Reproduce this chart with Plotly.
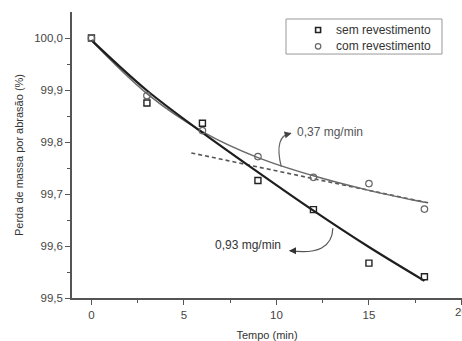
import plotly.graph_objects as go

# measured data
tempo = [0, 3, 6, 9, 12, 15, 18]
sem_revestimento = [100.0, 99.875, 99.836, 99.726, 99.670, 99.567, 99.541]
com_revestimento = [100.0, 99.889, 99.822, 99.772, 99.732, 99.720, 99.671]

# fitted curves
fit_x = [0, 3, 6, 9, 12, 15, 18]
fit_sem = [99.996, 99.899, 99.818, 99.742, 99.668, 99.598, 99.533]
fit_com = [99.995, 99.893, 99.820, 99.770, 99.735, 99.707, 99.684]

# linear (dashed) fit
lin_x = [5.4, 18.2]
lin_y = [99.779, 99.683]

series_names = ["sem revestimento", "com revestimento"]
x_ticks = [0, 5, 10, 15]
x_edge_tick = 20

FONT = "Liberation Sans, Arial, sans-serif"
AXC = "#555555"
XR = [-1.05, 20.03]

fig = go.Figure()

fig.add_trace(go.Scatter(x=lin_x, y=lin_y, mode="lines",
                         line=dict(color="#555555", width=1.6, dash="4px,3px"),
                         showlegend=False, hoverinfo="skip"))
fig.add_trace(go.Scatter(x=fit_x, y=fit_com, mode="lines", line_shape="spline",
                         line=dict(color="#6a6a6a", width=1.5),
                         showlegend=False, hoverinfo="skip"))
fig.add_trace(go.Scatter(x=fit_x, y=fit_sem, mode="lines", line_shape="spline",
                         line=dict(color="#1e1e1e", width=2.2),
                         showlegend=False, hoverinfo="skip"))
fig.add_trace(go.Scatter(x=tempo, y=sem_revestimento, mode="markers",
                         name=series_names[0], showlegend=False,
                         marker=dict(symbol="square-open", size=6, color="#222222",
                                     line=dict(width=1.4, color="#222222"))))
fig.add_trace(go.Scatter(x=tempo, y=com_revestimento, mode="markers",
                         name=series_names[1], showlegend=False,
                         marker=dict(symbol="circle-open", size=6.5, color="#666666",
                                     line=dict(width=1.2, color="#666666"))))

# legend (drawn on an auxiliary 0..1 axis pair)
leg_x = 0.631
leg_rows = [0.937, 0.880]
fig.add_shape(type="rect", xref="paper", yref="paper",
              x0=0.5487, x1=0.9487, y0=0.853, y1=0.9755,
              line=dict(color="#999999", width=1), fillcolor="white", layer="below")
fig.add_trace(go.Scatter(x=[leg_x], y=[leg_rows[0]], xaxis="x3", yaxis="y3",
                         mode="markers", showlegend=False, hoverinfo="skip",
                         marker=dict(symbol="square-open", size=5, color="#222222",
                                     line=dict(width=1.6, color="#222222"))))
fig.add_trace(go.Scatter(x=[leg_x], y=[leg_rows[1]], xaxis="x3", yaxis="y3",
                         mode="markers", showlegend=False, hoverinfo="skip",
                         marker=dict(symbol="circle-open", size=5.5, color="#666666",
                                     line=dict(width=1.2, color="#666666"))))
for name, ry in zip(series_names, leg_rows):
    fig.add_annotation(x=0.672, y=ry, xref="paper", yref="paper", text=name,
                       showarrow=False, xanchor="left", yanchor="middle",
                       font=dict(family=FONT, size=12, color="#333333"))

# edge tick label (cut by the right border, as in the original)
fig.add_annotation(x=x_edge_tick, y=0, xref="x", yref="paper", text=str(x_edge_tick),
                   showarrow=False, xanchor="center", yanchor="top", yshift=-6,
                   font=dict(family=FONT, size=11.5, color="#444444"))

# curved arrows
fig.add_shape(type="path", xref="x", yref="y",
              path="M 10.26,99.7525 Q 9.85,99.812 10.78,99.817",
              line=dict(color="#666666", width=1.2))
fig.add_shape(type="path", xref="x", yref="y",
              path="M 13.05,99.634 Q 13.0,99.580 10.72,99.591",
              line=dict(color="#555555", width=1.2))
fig.add_annotation(x=10.82, y=99.817, xref="x", yref="y", text="", showarrow=True,
                   ax=-8, ay=2, arrowhead=2, arrowsize=1, arrowwidth=1.4,
                   arrowcolor="#444444", standoff=0)
fig.add_annotation(x=10.68, y=99.591, xref="x", yref="y", text="", showarrow=True,
                   ax=8, ay=0, arrowhead=2, arrowsize=1, arrowwidth=1.4,
                   arrowcolor="#333333", standoff=0)

fig.add_annotation(x=11.0, y=99.82, xref="x", yref="y", text="0,37 mg/min",
                   showarrow=False, xanchor="left", yanchor="middle",
                   font=dict(family=FONT, size=12, color="#555555"))
fig.add_annotation(x=10.35, y=99.602, xref="x", yref="y", text="0,93 mg/min",
                   showarrow=False, xanchor="right", yanchor="middle",
                   font=dict(family=FONT, size=12, color="#333333"))

fig.update_layout(
    width=462, height=341,
    margin=dict(l=72, r=0, t=12, b=43),
    paper_bgcolor="white", plot_bgcolor="white",
    separators=",.",
    font=dict(family=FONT, size=11, color="#444444"),
    showlegend=False,
    xaxis=dict(range=XR, tickvals=x_ticks + [x_edge_tick],
               ticktext=[str(v) for v in x_ticks] + [""],
               ticks="outside", ticklen=5, tickwidth=1.2, tickcolor=AXC,
               showline=True, linecolor=AXC, linewidth=1.5,
               showgrid=False, zeroline=False,
               minor=dict(ticks="outside", ticklen=3, tickwidth=1.2, tickcolor=AXC,
                          tickvals=[2.5, 7.5, 12.5, 17.5], showgrid=False),
               tickfont=dict(size=11.5, color="#444444"),
               title=dict(text="Tempo (min)", standoff=12,
                          font=dict(size=11, color="#333333"))),
    xaxis2=dict(range=XR, overlaying="x", side="top", anchor="y",
                tickvals=[2.5, 7.5, 12.5, 17.5], ticks="inside", ticklen=3,
                tickwidth=1.2, tickcolor=AXC, showticklabels=False,
                showline=True, linecolor=AXC, linewidth=1.5,
                showgrid=False, zeroline=False),
    xaxis3=dict(range=[0, 1], overlaying="x", visible=False, fixedrange=True),
    yaxis3=dict(range=[0, 1], overlaying="y", visible=False, fixedrange=True),
    yaxis=dict(range=[99.5, 100.05], tickvals=[99.5, 99.6, 99.7, 99.8, 99.9, 100.0],
               tickformat=".1f",
               ticks="outside", ticklen=5, tickwidth=1.2, tickcolor=AXC,
               showline=True, linecolor=AXC, linewidth=1.5,
               showgrid=False, zeroline=False,
               minor=dict(ticks="outside", ticklen=3, tickwidth=1.2, tickcolor=AXC,
                          tickvals=[99.55, 99.65, 99.75, 99.85, 99.95], showgrid=False),
               tickfont=dict(size=11.5, color="#444444"),
               title=dict(text="Perda de massa por abrasão (%)", standoff=8,
                          font=dict(size=11, color="#333333"))),
)

fig.write_html("out.html")
